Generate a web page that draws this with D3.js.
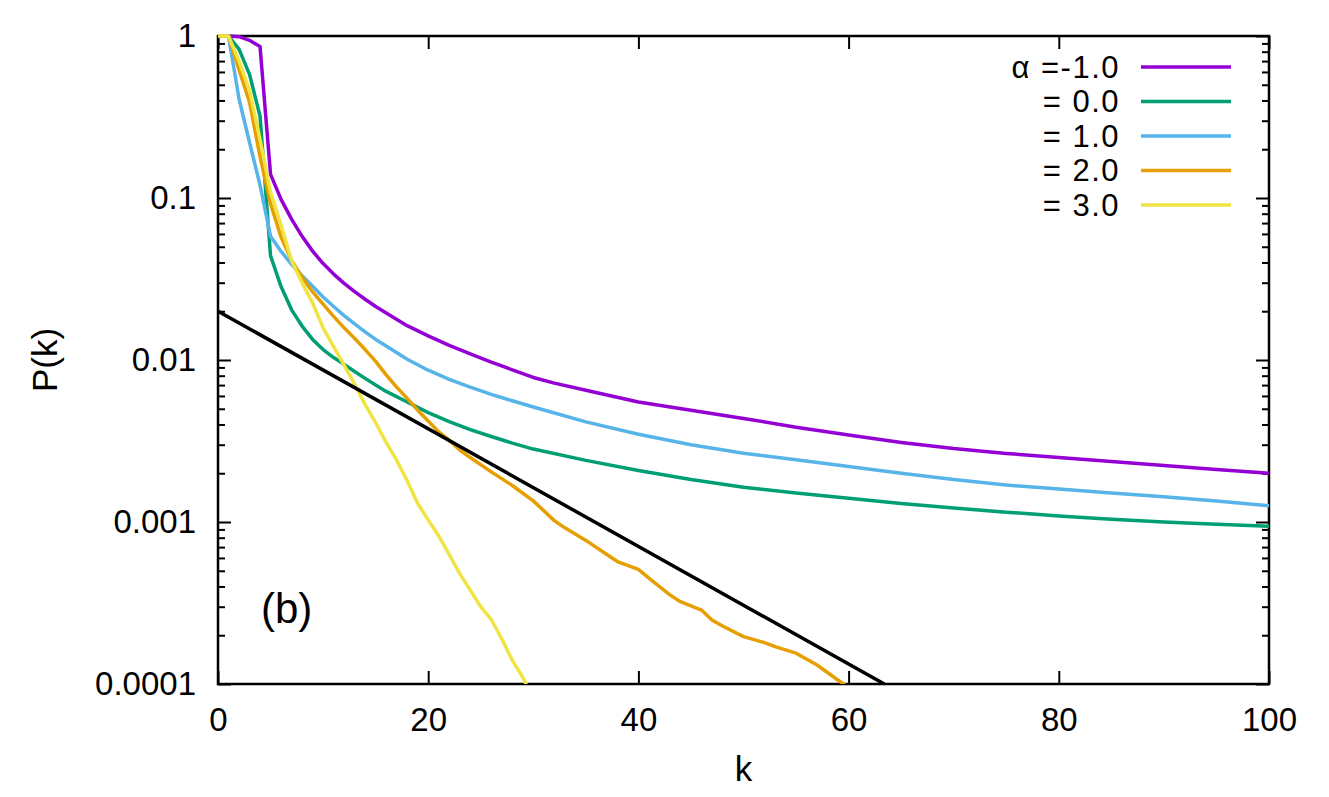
<!DOCTYPE html>
<html>
<head>
<meta charset="utf-8">
<script src="https://cdn.jsdelivr.net/npm/d3@7"></script>
<style>
  body { margin: 0; background: #fff; }
  text { font-family: "Liberation Sans", Arial, Helvetica, sans-serif; fill: #000; }
</style>
</head>
<body>
<svg id="chart" width="1329" height="797"></svg>
<script>
// ---------- data (k, P(k)) ----------
var alphaM1 = [[0,1],[1,1],[2,0.99],[3,0.94],[4,0.86],[5,0.14],[6,0.098],[7,0.074],[8,0.058],[9,0.047],
  [10,0.0394],[11,0.0339],[12,0.0297],[13,0.0264],[14,0.0237],[15,0.0214],[16,0.0195],[18,0.0163],
  [20,0.0141],[22,0.0123],[24,0.0109],[26,0.0097],[28,0.0087],[30,0.0078],[32,0.0072],[35,0.0065],
  [40,0.0055],[45,0.0049],[50,0.00436],[55,0.00385],[60,0.00344],[65,0.0031],[70,0.00284],[75,0.00265],
  [80,0.0025],[85,0.00236],[90,0.00223],[95,0.00211],[100,0.0020]];
var alpha0 = [[0,1],[1,1],[2,0.83],[3,0.58],[4,0.32],[5,0.044],[6,0.0284],[7,0.0204],[8,0.0162],[9,0.0134],
  [10,0.0116],[11,0.01035],[12,0.0094],[13,0.0085],[14,0.0077],[15,0.0070],[16,0.0064],[18,0.0055],
  [20,0.00473],[22,0.00417],[24,0.00372],[26,0.00337],[28,0.00307],[30,0.00282],[35,0.0024],[40,0.00208],
  [45,0.00183],[50,0.00164],[55,0.00151],[60,0.0014],[65,0.0013],[70,0.00122],[75,0.00115],[80,0.00109],
  [85,0.00104],[90,0.0010],[95,0.00097],[100,0.00094]];
var alpha1 = [[0,1],[1,1],[2,0.41],[3,0.22],[4,0.12],[5,0.058],[6,0.0468],[7,0.0389],[8,0.0331],[9,0.0285],
  [10,0.0245],[11,0.0214],[12,0.0188],[13,0.0167],[14,0.0149],[15,0.0134],[16,0.0122],[18,0.0101],
  [20,0.00865],[22,0.0076],[24,0.0068],[26,0.00614],[28,0.0056],[30,0.00513],[35,0.00415],[40,0.00348],
  [45,0.0030],[50,0.00266],[55,0.00242],[60,0.0022],[65,0.0020],[70,0.00183],[75,0.00169],[80,0.0016],
  [85,0.00151],[90,0.00143],[95,0.00135],[100,0.00126]];
var alpha2 = [[0,1],[1,1],[2,0.62],[3,0.39],[4,0.18],[5,0.092],[6,0.0575],[7,0.0412],[8,0.0324],[9,0.0263],
  [10,0.0221],[11,0.0186],[12,0.0158],[13,0.0136],[14,0.0116],[15,0.0098],[16,0.0081],[17,0.0068],
  [18,0.0058],[19,0.0049],[20,0.0042],[21,0.0036],[22,0.0032],[23,0.00278],[24,0.0025],[26,0.00204],
  [28,0.00168],[30,0.00135],[32,0.00102],[33,0.00092],[35,0.00077],[37,0.00063],[38,0.00057],[40,0.00051],
  [41,0.00045],[43,0.000355],[44,0.000322],[46,0.000286],[47,0.000248],[48,0.000228],[50,0.000196],
  [52,0.00018],[53,0.00017],[55,0.000155],[57,0.000131],[59.5,0.0001],[61,0.000085]];
var alpha3 = [[0,1],[1,1],[2,0.70],[3,0.46],[4,0.23],[5,0.108],[6,0.068],[7,0.041],[8,0.030],[9,0.0225],
  [10,0.0158],[11,0.0121],[12,0.0093],[13,0.0071],[14,0.0053],[15,0.0041],[16,0.0031],[17,0.0024],
  [18,0.0018],[19,0.0013],[20,0.00103],[21,0.00082],[22,0.00063],[23,0.00048],[24,0.00038],[25,0.0003],
  [26,0.00025],[27,0.00019],[28,0.00014],[29,0.00011],[30,0.00008]];
var refLine = [[0,0.02],[63.4,0.0001]];

var seriesLabels = ["α =-1.0", "= 0.0", "= 1.0", "= 2.0", "= 3.0"];
var seriesColors = ["#9400d3", "#009e73", "#56b4e9", "#e69f00", "#f0e442"];
var seriesData = [alphaM1, alpha0, alpha1, alpha2, alpha3];

var kTicks = [0, 20, 40, 60, 80, 100];
var pTicks = [1, 0.1, 0.01, 0.001, 0.0001];
var pTickLabels = ["1", "0.1", "0.01", "0.001", "0.0001"];
var pMinorTicks = [];
[0.0001, 0.001, 0.01, 0.1].forEach(function(d) {
    for (var m = 2; m <= 9; m++) pMinorTicks.push(d * m);
});

// ---------- layout ----------
var svg = d3.select('#chart');
var plot = {l: 218, r: 1269, t: 36, b: 684};

var x = d3.scaleLinear().domain([0, 100]).range([plot.l, plot.r]);
var y = d3.scaleLog().domain([0.0001, 1]).range([plot.b, plot.t]);

var tickFont = 33;

// clip (let lines sit on the top border like gnuplot does)
svg.append('clipPath').attr('id', 'clip')
  .append('rect')
    .attr('x', plot.l - 3).attr('y', plot.t - 3)
    .attr('width', plot.r - plot.l + 6).attr('height', plot.b - plot.t + 3);

// ---------- axes ----------
function styleAxis(g) {
    g.select('.domain').remove();
    g.selectAll('line').attr('stroke', '#000').attr('stroke-width', 2);
    g.selectAll('text')
      .attr('font-family', '"Liberation Sans", Arial, sans-serif')
      .attr('font-size', tickFont);
}

// left major
svg.append('g')
    .attr('transform', 'translate(' + plot.l + ',0)')
    .call(d3.axisLeft(y).tickValues(pTicks).tickSize(-13).tickPadding(22)
        .tickFormat(function(d, i) { return pTickLabels[i]; }))
    .call(styleAxis);
// left minor
svg.append('g')
    .attr('transform', 'translate(' + plot.l + ',0)')
    .call(d3.axisLeft(y).tickValues(pMinorTicks).tickSize(-7).tickFormat(''))
    .call(styleAxis);
// right major + minor (mirror)
svg.append('g')
    .attr('transform', 'translate(' + plot.r + ',0)')
    .call(d3.axisRight(y).tickValues(pTicks).tickSize(-13).tickFormat(''))
    .call(styleAxis);
svg.append('g')
    .attr('transform', 'translate(' + plot.r + ',0)')
    .call(d3.axisRight(y).tickValues(pMinorTicks).tickSize(-7).tickFormat(''))
    .call(styleAxis);
// bottom
svg.append('g')
    .attr('transform', 'translate(0,' + plot.b + ')')
    .call(d3.axisBottom(x).tickValues(kTicks).tickSize(-13).tickPadding(24).tickFormat(d3.format('d')))
    .call(styleAxis);
// top (mirror)
svg.append('g')
    .attr('transform', 'translate(0,' + plot.t + ')')
    .call(d3.axisTop(x).tickValues(kTicks).tickSize(-13).tickFormat(''))
    .call(styleAxis);

// border
svg.append('rect')
    .attr('x', plot.l).attr('y', plot.t)
    .attr('width', plot.r - plot.l).attr('height', plot.b - plot.t)
    .attr('fill', 'none').attr('stroke', '#000').attr('stroke-width', 2.5);

// axis titles
svg.append('text')
    .attr('x', (plot.l + plot.r) / 2).attr('y', 781)
    .attr('text-anchor', 'middle').attr('font-size', 35)
    .text('k');
svg.append('text')
    .attr('transform', 'translate(57,' + ((plot.t + plot.b) / 2) + ') rotate(-90)')
    .attr('text-anchor', 'middle').attr('font-size', 35)
    .text('P(k)');

// panel label
svg.append('text')
    .attr('x', 261).attr('y', 623)
    .attr('font-size', 42)
    .text('(b)');

// ---------- curves ----------
var line = d3.line()
    .x(function(d) { return x(d[0]); })
    .y(function(d) { return y(d[1]); });

var curves = svg.append('g').attr('clip-path', 'url(#clip)');

seriesData.forEach(function(s, i) {
    curves.append('path')
        .datum(s)
        .attr('d', line)
        .attr('fill', 'none')
        .attr('stroke', seriesColors[i])
        .attr('stroke-width', 3.5)
        .attr('stroke-linejoin', 'round');
});

curves.append('path')
    .datum(refLine)
    .attr('d', line)
    .attr('fill', 'none')
    .attr('stroke', '#000')
    .attr('stroke-width', 3.5);

// ---------- legend ----------
var legendG = svg.append('g');
seriesLabels.forEach(function(lab, i) {
    var ly = 67 + i * 34.5;
    legendG.append('text')
        .attr('x', 1120).attr('y', ly).attr('dy', '0.35em')
        .attr('text-anchor', 'end').attr('font-size', 31)
        .attr('letter-spacing', 1.5)
        .text(lab);
    legendG.append('line')
        .attr('x1', 1141).attr('x2', 1231)
        .attr('y1', ly).attr('y2', ly)
        .attr('stroke', seriesColors[i]).attr('stroke-width', 3.5);
});
</script>
</body>
</html>
